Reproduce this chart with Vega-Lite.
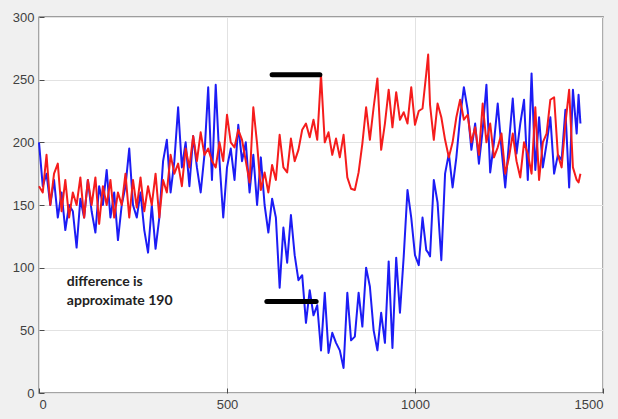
{
  "$schema": "https://vega.github.io/schema/vega-lite/v6.json",
  "width": 564,
  "height": 376,
  "autosize": "none",
  "padding": {"left": 39, "top": 17, "right": 15, "bottom": 26},
  "background": "#f0f0f0",
  "config": {
    "view": {"fill": "white", "stroke": "#4a4a4a", "strokeWidth": 1.3},
    "axis": {
      "labelFont": "Liberation Sans",
      "labelFontSize": 13,
      "labelColor": "#404040",
      "gridColor": "#e2e2e2",
      "gridWidth": 1,
      "domain": false,
      "tickColor": "#4a4a4a",
      "tickSize": -5,
      "title": null
    }
  },
  "datasets": {
    "series": [
      {"x":0,"blue":200,"red":165},{"x":10,"blue":165,"red":160},{"x":20,"blue":175,"red":190},{"x":30,"blue":150,"red":150},
      {"x":40,"blue":170,"red":175},{"x":50,"blue":140,"red":183},{"x":60,"blue":160,"red":145},{"x":70,"blue":130,"red":170},
      {"x":80,"blue":150,"red":140},{"x":90,"blue":145,"red":160},{"x":100,"blue":116,"red":150},{"x":110,"blue":155,"red":172},
      {"x":120,"blue":140,"red":140},{"x":130,"blue":170,"red":170},{"x":140,"blue":145,"red":150},{"x":150,"blue":128,"red":172},
      {"x":160,"blue":165,"red":135},{"x":170,"blue":150,"red":165},{"x":180,"blue":178,"red":150},{"x":190,"blue":140,"red":170},
      {"x":200,"blue":160,"red":140},{"x":210,"blue":122,"red":160},{"x":220,"blue":150,"red":150},{"x":230,"blue":165,"red":175},
      {"x":240,"blue":195,"red":140},{"x":250,"blue":150,"red":170},{"x":260,"blue":140,"red":148},{"x":270,"blue":160,"red":172},
      {"x":280,"blue":130,"red":145},{"x":290,"blue":112,"red":165},{"x":300,"blue":150,"red":150},{"x":310,"blue":115,"red":175},
      {"x":320,"blue":140,"red":140},{"x":330,"blue":185,"red":170},{"x":340,"blue":202,"red":160},{"x":350,"blue":160,"red":190},
      {"x":360,"blue":185,"red":175},{"x":370,"blue":228,"red":183},{"x":380,"blue":180,"red":165},{"x":390,"blue":200,"red":195},
      {"x":400,"blue":165,"red":180},{"x":410,"blue":205,"red":205},{"x":420,"blue":180,"red":185},{"x":430,"blue":160,"red":208},
      {"x":440,"blue":190,"red":190},{"x":450,"blue":244,"red":195},{"x":460,"blue":170,"red":185},{"x":470,"blue":246,"red":180},
      {"x":480,"blue":185,"red":200},{"x":490,"blue":140,"red":185},{"x":500,"blue":180,"red":222},{"x":510,"blue":195,"red":200},
      {"x":520,"blue":170,"red":196},{"x":530,"blue":214,"red":210},{"x":540,"blue":185,"red":202},{"x":550,"blue":200,"red":185},
      {"x":560,"blue":160,"red":168},{"x":570,"blue":190,"red":228},{"x":580,"blue":150,"red":199},{"x":590,"blue":188,"red":162},
      {"x":600,"blue":150,"red":176},{"x":610,"blue":128,"red":160},{"x":620,"blue":155,"red":182},{"x":630,"blue":140,"red":170},
      {"x":640,"blue":84,"red":206},{"x":650,"blue":132,"red":180},{"x":660,"blue":104,"red":176},{"x":670,"blue":142,"red":203},
      {"x":680,"blue":110,"red":185},{"x":690,"blue":90,"red":194},{"x":700,"blue":94,"red":210},{"x":710,"blue":56,"red":215},
      {"x":720,"blue":82,"red":204},{"x":730,"blue":62,"red":218},{"x":740,"blue":70,"red":202},{"x":750,"blue":34,"red":254},
      {"x":760,"blue":80,"red":200},{"x":770,"blue":32,"red":208},{"x":780,"blue":48,"red":190},{"x":790,"blue":40,"red":203},
      {"x":800,"blue":34,"red":188},{"x":810,"blue":20,"red":206},{"x":820,"blue":80,"red":172},{"x":830,"blue":42,"red":163},
      {"x":840,"blue":45,"red":162},{"x":850,"blue":80,"red":176},{"x":860,"blue":53,"red":199},{"x":870,"blue":100,"red":228},
      {"x":880,"blue":85,"red":202},{"x":890,"blue":50,"red":228},{"x":900,"blue":34,"red":251},{"x":910,"blue":64,"red":194},
      {"x":920,"blue":40,"red":215},{"x":930,"blue":105,"red":242},{"x":940,"blue":36,"red":212},{"x":950,"blue":108,"red":240},
      {"x":960,"blue":64,"red":218},{"x":970,"blue":109,"red":224},{"x":980,"blue":162,"red":215},{"x":990,"blue":140,"red":244},
      {"x":1000,"blue":110,"red":214},{"x":1010,"blue":102,"red":225},{"x":1020,"blue":140,"red":227},{"x":1030,"blue":114,"red":255},
      {"x":1035,"blue":112,"red":270},{"x":1040,"blue":109,"red":230},{"x":1050,"blue":170,"red":202},{"x":1060,"blue":152,"red":231},
      {"x":1070,"blue":106,"red":220},{"x":1080,"blue":175,"red":202},{"x":1090,"blue":191,"red":188},{"x":1100,"blue":164,"red":200},
      {"x":1110,"blue":188,"red":220},{"x":1120,"blue":220,"red":234},{"x":1130,"blue":244,"red":218},{"x":1140,"blue":226,"red":222},
      {"x":1150,"blue":194,"red":200},{"x":1160,"blue":215,"red":212},{"x":1170,"blue":183,"red":190},{"x":1180,"blue":210,"red":231},
      {"x":1190,"blue":246,"red":200},{"x":1200,"blue":176,"red":215},{"x":1210,"blue":200,"red":188},{"x":1220,"blue":231,"red":196},
      {"x":1230,"blue":195,"red":207},{"x":1240,"blue":164,"red":175},{"x":1250,"blue":200,"red":188},{"x":1260,"blue":235,"red":207},
      {"x":1270,"blue":191,"red":185},{"x":1280,"blue":215,"red":172},{"x":1290,"blue":234,"red":200},{"x":1300,"blue":170,"red":191},
      {"x":1310,"blue":255,"red":175},{"x":1320,"blue":178,"red":228},{"x":1330,"blue":220,"red":170},{"x":1340,"blue":180,"red":200},
      {"x":1350,"blue":199,"red":207},{"x":1360,"blue":220,"red":234},{"x":1370,"blue":175,"red":236},{"x":1380,"blue":190,"red":190},
      {"x":1390,"blue":186,"red":180},{"x":1400,"blue":226,"red":215},{"x":1410,"blue":164,"red":242},{"x":1420,"blue":242,"red":180},
      {"x":1430,"blue":207,"red":170},{"x":1435,"blue":238,"red":168},{"x":1440,"blue":215,"red":175}
    ],
    "bars": [
      {"x":620,"x2":747,"y":254},
      {"x":606,"x2":737,"y":73}
    ],
    "notes": [
      {"x":74,"y":88.6,"label":"difference is"},
      {"x":74,"y":73.4,"label":"approximate 190"}
    ]
  },
  "layer": [
    {
      "data": {"name": "series"},
      "transform": [{"fold": ["blue", "red"], "as": ["series", "value"]}],
      "mark": {"type": "line", "strokeWidth": 2, "strokeJoin": "round"},
      "encoding": {
        "x": {"field": "x", "type": "quantitative", "scale": {"domain": [0, 1500], "nice": false},
              "axis": {"values": [0, 500, 1000, 1500], "labelPadding": 10, "grid": true, "format": "d"}},
        "y": {"field": "value", "type": "quantitative", "scale": {"domain": [0, 300], "nice": false},
              "axis": {"values": [0, 50, 100, 150, 200, 250, 300], "labelPadding": 10, "grid": true}},
        "color": {"field": "series", "type": "nominal", "scale": {"domain": ["blue", "red"], "range": ["#1c1cf5", "#f51c1c"]}, "legend": null},
        "order": {"field": "series"}
      }
    },
    {
      "data": {"name": "bars"},
      "mark": {"type": "rule", "color": "black", "strokeWidth": 5, "strokeCap": "round"},
      "encoding": {
        "x": {"field": "x", "type": "quantitative"},
        "x2": {"field": "x2"},
        "y": {"field": "y", "type": "quantitative"}
      }
    },
    {
      "data": {"name": "notes"},
      "mark": {"type": "text", "align": "left", "baseline": "middle", "font": "Lato", "fontWeight": "bold", "fontSize": 14, "color": "#222222"},
      "encoding": {
        "x": {"field": "x", "type": "quantitative"},
        "y": {"field": "y", "type": "quantitative"},
        "text": {"field": "label"}
      }
    }
  ]
}
